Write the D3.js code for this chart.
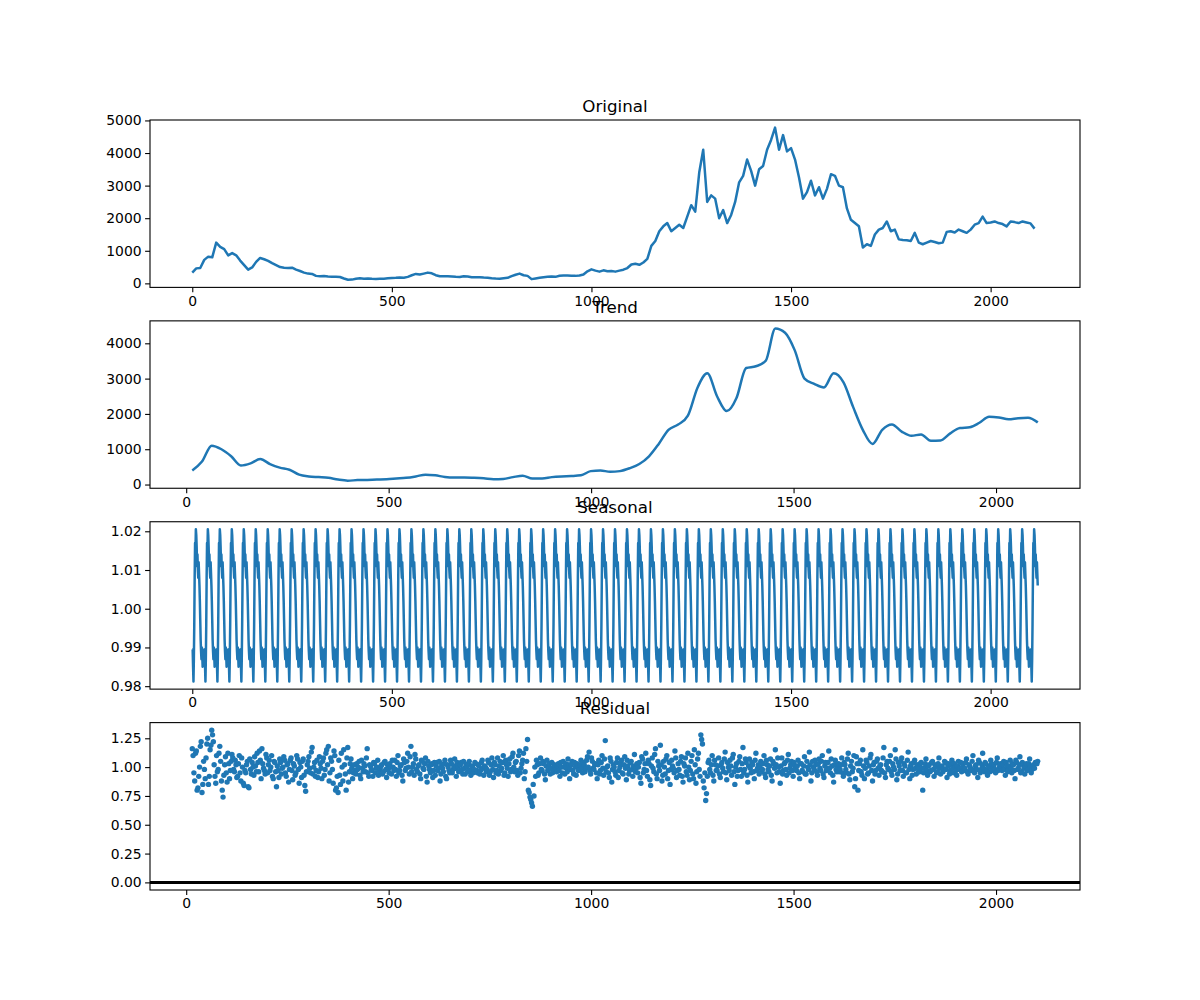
<!DOCTYPE html>
<html>
<head>
<meta charset="utf-8">
<script src="https://cdn.jsdelivr.net/npm/d3@7"></script>
<style>
  body { margin: 0; background: #fff; }
  text { font-family: "DejaVu Sans", sans-serif; }
</style>
</head>
<body>
<div id="chart"></div>
<script>
// daily index, observed series sampled every 10 days
const origStep = 10;
const originalValues = [
  330, 460, 470, 720, 820, 800, 1250, 1120, 1050, 860,
  930, 860, 700, 560, 420, 490, 660, 780, 740, 690,
  620, 560, 500, 480, 470, 480, 420, 380, 330, 300,
  290, 230, 215, 225, 210, 205, 200, 195, 150, 110,
  115, 140, 160, 145, 150, 140, 135, 140, 145, 155,
  165, 170, 180, 175, 200, 250, 290, 270, 300, 330,
  310, 250, 220, 215, 215, 210, 200, 195, 220, 210,
  185, 185, 190, 180, 175, 160, 150, 145, 160, 170,
  220, 265, 300, 250, 230, 130, 150, 170, 190, 200,
  210, 200, 235, 245, 240, 235, 230, 240, 270, 370,
  430, 390, 360, 400, 370, 380, 360, 390, 420, 470,
  580, 600, 570, 640, 750, 1150, 1300, 1600, 1750, 1850,
  1600, 1700, 1800, 1700, 2050, 2400, 2200, 3400, 4100, 2500,
  2700, 2600, 2000, 2250, 1850, 2100, 2500, 3100, 3300, 3800,
  3450, 3000, 3500, 3600, 4100, 4400, 4780, 4100, 4550, 4050,
  4150, 3800, 3250, 2600, 2800, 3150, 2700, 2950, 2600, 2900,
  3350, 3300, 3000, 2950, 2300, 1950, 1850, 1750, 1100, 1200,
  1150, 1500, 1650, 1700, 1900, 1600, 1650, 1350, 1330, 1320,
  1300, 1550, 1250, 1200, 1250, 1300, 1270, 1230, 1250, 1580,
  1600, 1560, 1650, 1600, 1550, 1650, 1800, 1850, 2050, 1850,
  1870, 1900, 1850, 1820, 1750, 1900, 1880, 1850, 1900, 1870,
  1840, 1680
];

// trend (centred moving average), sampled every 24 days from day 15
const trendStart = 15;
const trendStep = 24;
const trendValues = [
  400, 650, 1100, 1000, 800, 540, 600, 720, 580, 480,
  420, 280, 230, 210, 190, 140, 110, 125, 130, 140,
  150, 170, 190, 230, 280, 260, 215, 200, 200, 190,
  175, 150, 160, 210, 250, 170, 170, 210, 230, 240,
  260, 380, 400, 360, 380, 460, 580, 800, 1150, 1550,
  1700, 1950, 2750, 3150, 2500, 2080, 2450, 3300, 3350, 3500,
  4420, 4300, 3800, 3000, 2850, 2750, 3150, 2900, 2200, 1550,
  1150, 1550, 1700, 1500, 1380, 1420, 1240, 1250, 1450, 1600,
  1620, 1750, 1920, 1900, 1850, 1880, 1890, 1760
];

// one period (30 days) of the seasonal component, repeated over the whole index
const seasonalCycle = [
  0.9895, 0.9895, 0.9850, 0.9812, 0.9870, 0.9960, 1.0080, 1.0170, 1.0150, 1.0205,
  1.0190, 1.0160, 1.0110, 1.0140, 1.0100, 1.0080, 1.0120, 1.0090, 1.0060, 1.0020,
  0.9970, 0.9920, 0.9890, 0.9870, 0.9900, 0.9880, 0.9850, 0.9870, 0.9860, 0.9890
];
const seriesLength = 2119;

// residual, every 4 days from day 15
const residStart = 15;
const residStep = 4;
const residValues = [
  1.16, 0.95, 1.12, 0.80, 0.92, 1.18, 0.78, 1.05, 0.90, 1.20, 0.85, 1.15, 1.32, 1.22, 0.92, 1.10, 0.98, 1.18, 0.88, 0.74, 1.02, 0.95, 1.12, 0.90, 1.05,
  1.08, 0.96, 1.02, 0.92, 1.10, 0.88, 1.00, 0.84, 0.95, 1.05, 0.82, 0.98, 1.04, 0.93, 1.01, 1.12, 0.96, 1.06, 1.16, 0.99, 0.94, 1.08, 1.02, 0.97, 1.10,
  0.90, 1.04, 0.83, 0.97, 1.07, 0.94, 1.00, 1.06, 0.92, 1.03, 0.98, 1.08, 0.89, 1.01, 0.95, 1.07, 0.86, 1.00, 1.05, 0.93, 0.79, 1.02, 1.09, 0.95, 1.17,
  1.00, 0.92, 1.06, 0.96, 1.03, 0.90, 1.08, 0.98, 1.15, 1.18, 0.95, 1.05, 0.86, 1.10, 0.82, 0.78, 0.93, 1.12, 0.88, 1.02, 0.80, 1.17, 0.96, 1.07, 0.90,
  1.02, 0.94, 0.98, 1.05, 0.90, 0.99, 1.03, 0.96, 1.16, 0.92, 1.01, 0.97, 1.04, 0.95, 1.00, 0.93, 0.99, 1.02, 0.96, 1.05, 0.91, 0.98, 1.03, 0.94, 1.00,
  1.06, 0.92, 1.10, 0.97, 1.02, 0.88, 1.04, 0.99, 1.12, 0.94, 1.18, 1.00, 0.93, 1.07, 0.96, 1.02, 0.90, 1.05, 0.98, 1.08, 0.87, 1.01, 0.95, 1.03, 0.97,
  0.93, 1.04, 0.99, 0.88, 1.02, 0.96, 1.06, 0.90, 1.00, 0.95, 1.03, 0.98, 1.07, 0.92, 1.01, 0.97, 1.04, 0.94, 0.99, 1.02, 0.96, 1.05, 0.93, 1.00, 0.98,
  1.03, 0.95, 1.01, 0.97, 1.06, 0.93, 1.00, 0.98, 1.04, 0.96, 1.08, 0.91, 1.02, 0.97, 0.94, 1.05, 0.99, 1.10, 0.95, 1.02, 0.92, 1.07, 0.98, 1.12, 0.96,
  1.05, 0.93, 1.14, 0.99, 1.06, 0.90, 1.16, 1.24, 0.78, 0.72, 0.66, 0.75, 0.92, 1.02, 0.95, 1.08, 0.97, 1.03, 0.89, 1.06, 0.99, 0.94, 1.04, 0.97, 1.01,
  0.96, 1.03, 0.92, 1.00, 1.05, 0.94, 0.99, 1.07, 0.90, 1.02, 0.97, 1.04, 0.93, 1.01, 0.98, 1.06, 0.95, 1.02, 0.99, 1.09, 1.13, 0.94, 1.05, 0.98, 1.03,
  0.90, 1.06, 0.97, 1.10, 0.93, 1.23, 1.00, 0.95, 1.08, 0.87, 1.02, 0.96, 1.04, 0.91, 1.00, 1.06, 0.94, 1.09, 0.89, 1.01, 0.97, 1.05, 0.92, 1.11, 0.99,
  0.95, 1.04, 0.86, 1.07, 0.98, 1.12, 0.92, 1.03, 0.84, 1.08, 0.96, 1.16, 0.90, 1.01, 1.19, 0.88, 1.05, 0.94, 1.10, 0.97, 0.85, 1.06, 0.99, 1.14, 0.91,
  1.03, 0.93, 1.09, 0.87, 1.01, 0.96, 1.12, 0.89, 1.05, 0.94, 1.15, 0.86, 1.07, 0.98, 1.28, 1.20, 0.82, 0.71, 0.92, 1.06, 0.95, 1.10, 0.88, 1.02, 0.97,
  1.08, 0.91, 1.04, 0.96, 1.13, 0.89, 1.00, 1.06, 0.93, 1.11, 0.85, 1.03, 0.97, 1.09, 0.92, 1.17, 0.98, 1.04, 0.87, 1.07, 0.95, 1.02, 0.90, 1.12, 0.99,
  0.94, 1.05, 0.98, 1.10, 0.91, 1.02, 0.96, 1.07, 0.88, 1.03, 1.15, 0.95, 1.00, 0.86, 1.08, 0.97, 1.04, 0.93, 1.11, 0.99, 1.05, 0.92, 1.01, 0.97, 1.06,
  0.90, 1.03, 0.96, 1.09, 0.94, 1.00, 1.13, 0.88, 1.05, 0.98, 1.02, 0.93, 1.07, 0.97, 1.10, 0.91, 1.04, 0.99, 1.14, 0.95, 1.01, 0.87, 1.06, 0.96, 1.03,
  0.98, 1.08, 0.92, 1.02, 0.95, 1.12, 0.89, 1.05, 0.99, 0.83, 1.09, 0.80, 1.03, 0.96, 1.15, 0.90, 1.06, 0.94, 1.01, 1.11, 0.88, 1.04, 0.97, 1.07, 0.93,
  1.02, 0.96, 1.17, 0.91, 1.05, 0.98, 1.10, 0.93, 1.00, 1.15, 0.89, 1.04, 0.97, 1.08, 0.92, 1.01, 0.95, 1.13, 0.90, 1.03, 0.98, 1.06, 0.94, 1.00, 0.96,
  1.04, 0.80, 0.99, 1.07, 0.93, 1.02, 0.97, 1.05, 0.92, 1.00, 0.96, 1.08, 0.94, 1.01, 0.98, 1.04, 0.91, 1.03, 0.97, 1.06, 0.95, 1.00, 0.93, 1.05, 0.99,
  0.96, 1.03, 0.99, 1.07, 0.94, 1.01, 0.97, 1.10, 0.95, 1.02, 0.91, 1.04, 0.98, 1.12, 0.96, 1.03, 0.93, 1.00, 1.06, 0.97, 1.02, 0.95, 1.08, 0.99, 1.03,
  0.97, 1.05, 0.93, 1.01, 0.98, 1.06, 0.95, 1.02, 0.90, 1.04, 0.99, 1.09, 0.96, 1.02, 0.94, 1.03, 0.98, 1.07, 0.95, 1.01, 0.99, 1.04, 1.05
];

// residual, the in-between days (every 4 days from day 17)
const residStartB = 17;
const residValuesB = [
  1.10, 0.88, 1.14, 0.82, 1.00, 1.22, 0.85, 0.98, 1.08, 1.25, 0.92, 1.19, 1.28, 1.02, 0.86, 0.96, 1.12, 1.05, 0.80, 0.93, 1.09, 0.87, 1.03, 0.97, 1.11,
  0.98, 1.06, 0.91, 1.03, 0.95, 1.08, 0.86, 0.97, 1.02, 0.83, 1.07, 0.94, 1.00, 1.09, 0.96, 1.04, 1.14, 0.90, 1.03, 0.97, 1.11, 0.95, 1.06, 1.00, 0.92,
  1.05, 0.96, 1.01, 0.91, 1.04, 0.99, 1.09, 0.95, 1.02, 0.87, 1.06, 0.97, 1.03, 0.93, 1.10, 0.98, 1.04, 0.91, 1.07, 0.84, 0.96, 1.05, 0.99, 1.13, 0.94,
  1.04, 0.97, 0.91, 1.09, 0.99, 1.05, 0.93, 1.12, 1.02, 0.88, 1.08, 0.98, 1.14, 0.80, 0.92, 1.06, 0.85, 1.00, 1.15, 0.94, 1.08, 0.87, 1.03, 0.99, 0.95,
  0.97, 1.03, 1.00, 0.93, 1.06, 0.96, 1.01, 1.08, 0.95, 1.02, 0.98, 0.92, 1.03, 0.99, 1.06, 0.97, 1.01, 0.94, 1.04, 0.98, 1.02, 0.95, 1.00, 1.06, 0.97,
  0.98, 1.04, 0.95, 1.01, 0.93, 1.07, 0.97, 1.05, 1.00, 1.09, 0.96, 1.03, 1.11, 0.98, 1.01, 0.94, 1.06, 0.99, 1.03, 0.92, 1.05, 0.98, 1.02, 0.91, 1.04,
  1.01, 0.97, 1.05, 0.94, 0.99, 1.03, 0.92, 1.02, 0.97, 1.06, 0.95, 1.01, 0.99, 1.04, 0.96, 1.02, 0.98, 1.05, 0.94, 1.00, 1.03, 0.97, 1.01, 0.95, 1.04,
  0.97, 1.02, 0.94, 1.04, 0.99, 1.01, 0.96, 1.06, 0.93, 1.02, 0.98, 1.04, 0.95, 1.08, 1.01, 0.97, 1.04, 0.93, 1.06, 0.99, 1.03, 0.96, 1.09, 1.00, 1.04,
  0.97, 1.10, 0.95, 1.03, 1.12, 0.96, 1.05, 0.80, 0.74, 0.69, 0.85, 1.00, 1.06, 0.93, 1.03, 0.98, 1.05, 0.94, 1.01, 0.97, 1.03, 0.99, 0.95, 1.02, 0.98,
  1.01, 0.97, 1.04, 0.95, 1.00, 1.03, 0.96, 1.02, 0.98, 1.05, 0.94, 1.00, 1.03, 0.97, 1.02, 0.99, 1.04, 0.96, 1.06, 1.00, 0.97, 1.08, 0.99, 1.02, 0.95,
  1.02, 0.94, 1.04, 0.99, 1.07, 0.96, 1.01, 0.91, 1.05, 0.98, 1.00, 0.93, 1.08, 0.97, 1.03, 0.95, 1.02, 0.99, 1.06, 0.94, 1.04, 0.98, 1.01, 0.96, 1.03,
  1.00, 0.91, 1.09, 0.95, 1.03, 0.97, 1.06, 0.89, 1.01, 0.99, 1.11, 0.94, 1.05, 0.97, 1.02, 0.93, 1.00, 1.07, 0.90, 1.04, 0.98, 1.01, 0.95, 1.08, 0.97,
  0.98, 1.05, 0.92, 1.03, 1.08, 0.93, 1.00, 0.97, 1.10, 0.90, 1.02, 0.96, 1.12, 0.92, 1.24, 0.88, 0.95, 0.77, 1.04, 0.98, 1.02, 0.93, 1.06, 0.97, 1.01,
  0.94, 1.02, 0.99, 1.07, 0.95, 1.04, 0.97, 1.01, 1.08, 0.96, 1.00, 0.92, 1.05, 0.98, 1.03, 0.95, 1.07, 0.93, 1.01, 0.99, 1.04, 0.96, 1.06, 0.97, 1.02,
  1.00, 0.96, 1.03, 0.94, 1.06, 0.98, 1.01, 0.93, 1.05, 0.99, 1.02, 1.08, 0.96, 1.01, 0.94, 1.03, 0.98, 1.06, 0.95, 1.02, 0.97, 1.04, 0.99, 1.01, 0.95,
  1.03, 0.97, 1.01, 0.94, 1.05, 0.98, 1.02, 0.95, 1.00, 1.06, 0.96, 1.03, 0.99, 1.05, 0.94, 1.01, 0.97, 1.04, 0.99, 1.07, 0.93, 1.02, 0.98, 1.00, 0.96,
  1.02, 0.95, 1.04, 0.98, 1.07, 0.94, 1.01, 0.96, 1.10, 0.90, 1.03, 0.97, 1.06, 0.93, 1.01, 0.99, 1.04, 0.95, 1.08, 0.97, 1.02, 0.94, 1.05, 0.99, 1.01,
  0.97, 1.08, 0.95, 1.02, 0.99, 1.05, 0.96, 1.03, 0.98, 1.07, 0.94, 1.01, 1.05, 0.97, 1.03, 0.95, 1.06, 0.98, 1.01, 0.93, 1.04, 0.99, 1.02, 0.96, 1.03,
  0.99, 0.95, 1.03, 0.97, 1.01, 0.96, 1.04, 0.98, 1.02, 0.95, 1.03, 0.99, 1.00, 0.96, 1.05, 0.98, 1.01, 0.94, 1.02, 0.99, 1.03, 0.97, 1.01, 0.98, 1.04,
  1.00, 0.97, 1.04, 0.96, 1.02, 0.99, 1.05, 0.97, 1.01, 0.98, 1.06, 0.95, 1.02, 0.99, 1.04, 0.97, 1.01, 0.96, 1.03, 1.00, 0.98, 1.04, 0.97, 1.01, 0.99,
  1.02, 0.98, 1.04, 0.96, 1.01, 0.99, 1.03, 0.97, 1.06, 0.98, 1.02, 0.95, 1.04, 0.99, 1.01, 0.97, 1.03, 1.00, 0.98, 1.02, 1.04, 1.03
];

const titles = ["Original", "Trend", "Seasonal", "Residual"];
const xTicks = [0, 500, 1000, 1500, 2000];
const originalTicks = [0, 1000, 2000, 3000, 4000, 5000];
const trendTicks = [0, 1000, 2000, 3000, 4000];
const seasonalTicks = [0.98, 0.99, 1.00, 1.01, 1.02];
const residTicks = [0, 0.25, 0.5, 0.75, 1.0, 1.25];

const original = originalValues.map((v, i) => ({ x: i * origStep, y: v }));
const trend = trendValues.map((v, i) => ({ x: trendStart + i * trendStep, y: v }));
const seasonal = d3.range(seriesLength).map(i => ({ x: i, y: seasonalCycle[i % seasonalCycle.length] }));
const resid = residValues.map((v, i) => ({ x: residStart + i * residStep, y: v }))
  .concat(residValuesB.map((v, i) => ({ x: residStartB + i * residStep, y: v })))
  .sort((a, b) => a.x - b.x);

const width = 1200, height = 1000;
const mLeft = 150, mRight = 1080, mTop = 120, mBottom = 890;
const rowH = (mBottom - mTop) / (4 + 3 * 0.2);
const gap = rowH * 0.2;
const blue = "#1f77b4";

const svg = d3.select("#chart").append("svg")
  .attr("width", width)
  .attr("height", height);

// matplotlib-like 5% padding
function pad(ext) {
  const r = ext[1] - ext[0];
  return [ext[0] - 0.05 * r, ext[1] + 0.05 * r];
}

function panel(i, xDom, yDom, yTicks, yFmt) {
  const y0 = mTop + i * (rowH + gap);
  const x = d3.scaleLinear().domain(xDom).range([mLeft, mRight]);
  const y = d3.scaleLinear().domain(yDom).range([y0 + rowH, y0]);
  const g = svg.append("g");

  g.append("clipPath").attr("id", "clip" + i)
    .append("rect")
    .attr("x", mLeft).attr("y", y0)
    .attr("width", mRight - mLeft).attr("height", rowH);

  const plot = g.append("g").attr("clip-path", "url(#clip" + i + ")");

  const xAxis = g.append("g")
    .attr("transform", "translate(0," + (y0 + rowH) + ")")
    .call(d3.axisBottom(x).tickValues(xTicks).tickFormat(d3.format("d")).tickSize(4.9).tickPadding(3.5).tickSizeOuter(0));
  const yAxis = g.append("g")
    .attr("transform", "translate(" + mLeft + ",0)")
    .call(d3.axisLeft(y).tickValues(yTicks).tickFormat(yFmt).tickSize(4.9).tickPadding(3.5).tickSizeOuter(0));
  [xAxis, yAxis].forEach(a => {
    a.select(".domain").remove();
    a.selectAll("line").attr("stroke", "#000").attr("stroke-width", 1.1);
    a.selectAll("text").attr("font-size", "13.9px").attr("fill", "#000")
      .style("font-family", "'DejaVu Sans', sans-serif");
  });

  g.append("rect")
    .attr("x", mLeft).attr("y", y0)
    .attr("width", mRight - mLeft).attr("height", rowH)
    .attr("fill", "none").attr("stroke", "#000").attr("stroke-width", 1.1);

  g.append("text")
    .attr("x", (mLeft + mRight) / 2)
    .attr("y", y0 - 8.3)
    .attr("text-anchor", "middle")
    .attr("font-size", "16.7px")
    .text(titles[i]);

  return { x, y, plot };
}

function drawLine(p, data, curve) {
  p.plot.append("path")
    .datum(data)
    .attr("fill", "none")
    .attr("stroke", blue)
    .attr("stroke-width", 2.5)
    .attr("stroke-linejoin", "round")
    .attr("d", d3.line().x(d => p.x(d.x)).y(d => p.y(d.y)).curve(curve));
}

const fullX = pad([0, seriesLength - 1]);
const innerX = pad(d3.extent(trend, d => d.x));

const p0 = panel(0, fullX, pad(d3.extent(original, d => d.y)), originalTicks, d3.format("d"));
drawLine(p0, original, d3.curveLinear);

const p1 = panel(1, innerX, pad(d3.extent(trend, d => d.y)), trendTicks, d3.format("d"));
drawLine(p1, trend, d3.curveMonotoneX);

const p2 = panel(2, fullX, pad(d3.extent(seasonal, d => d.y)), seasonalTicks, d3.format(".2f"));
drawLine(p2, seasonal, d3.curveLinear);

const residY = pad([0, d3.max(resid, d => d.y)]);
const p3 = panel(3, innerX, residY, residTicks, d3.format(".2f"));
p3.plot.append("line")
  .attr("x1", mLeft).attr("x2", mRight)
  .attr("y1", p3.y(0)).attr("y2", p3.y(0))
  .attr("stroke", "#000")
  .attr("stroke-width", 3);
p3.plot.selectAll("circle")
  .data(resid)
  .enter()
  .append("circle")
  .attr("cx", d => p3.x(d.x))
  .attr("cy", d => p3.y(d.y))
  .attr("r", 2.7)
  .attr("fill", blue);
</script>
</body>
</html>
